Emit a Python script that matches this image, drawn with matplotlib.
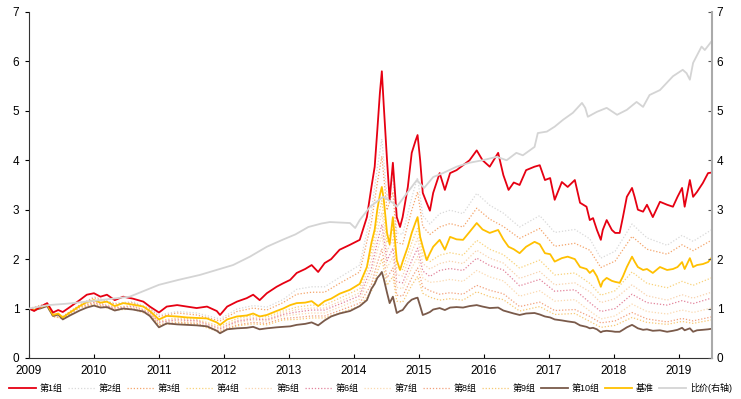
import matplotlib
matplotlib.use("Agg")
import matplotlib.pyplot as plt

plt.rcParams['font.family'] = ['Liberation Sans', 'Noto Sans CJK SC', 'DejaVu Sans']

# dense dates for the solid lines (fractional years)
t_main = [2009.00, 2009.08, 2009.17, 2009.28, 2009.37, 2009.45, 2009.52, 2009.63, 2009.78, 2009.89,
          2010.00, 2010.10, 2010.20, 2010.32, 2010.45, 2010.60, 2010.76, 2010.86, 2011.00, 2011.12,
          2011.28, 2011.43, 2011.58, 2011.74, 2011.89, 2011.94, 2012.05, 2012.20, 2012.35, 2012.45,
          2012.55, 2012.66, 2012.81, 2012.91, 2013.02, 2013.12, 2013.25, 2013.35, 2013.45, 2013.55,
          2013.65, 2013.78, 2013.94, 2014.09, 2014.20, 2014.27, 2014.32, 2014.36, 2014.40, 2014.43,
          2014.46, 2014.51, 2014.55, 2014.60, 2014.66, 2014.71, 2014.75, 2014.83, 2014.89, 2014.95,
          2014.98, 2015.02, 2015.06, 2015.12, 2015.17, 2015.22, 2015.32, 2015.40, 2015.48, 2015.58,
          2015.68, 2015.78, 2015.89, 2015.98, 2016.09, 2016.22, 2016.30, 2016.38, 2016.46, 2016.55,
          2016.65, 2016.78, 2016.86, 2016.94, 2017.02, 2017.09, 2017.20, 2017.29, 2017.40, 2017.48,
          2017.58, 2017.63, 2017.68, 2017.74, 2017.80, 2017.83, 2017.89, 2017.97, 2018.02, 2018.09,
          2018.14, 2018.20, 2018.28, 2018.32, 2018.37, 2018.45, 2018.51, 2018.60, 2018.71, 2018.82,
          2018.91, 2018.98, 2019.05, 2019.09, 2019.17, 2019.22, 2019.28, 2019.37, 2019.45, 2019.50]

g1 = [1.00, 0.95, 1.03, 1.11, 0.92, 0.97, 0.93, 1.03, 1.17, 1.28,
      1.31, 1.24, 1.28, 1.17, 1.24, 1.20, 1.14, 1.04, 0.92, 1.04,
      1.07, 1.04, 1.01, 1.04, 0.95, 0.87, 1.04, 1.14, 1.21, 1.28,
      1.17, 1.31, 1.44, 1.51, 1.58, 1.72, 1.80, 1.88, 1.74, 1.92,
      2.00, 2.19, 2.29, 2.39, 2.85, 3.46, 3.87, 4.60, 5.36, 5.80,
      5.10, 4.00, 3.20, 3.95, 2.85, 2.65, 2.85, 3.46, 4.15, 4.40,
      4.51, 4.00, 3.34, 3.14, 2.98, 3.34, 3.74, 3.40, 3.74, 3.80,
      3.90, 4.00, 4.20, 4.00, 3.87, 4.15, 3.70, 3.40, 3.55, 3.50,
      3.80, 3.87, 3.90, 3.60, 3.64, 3.20, 3.56, 3.46, 3.60, 3.14,
      3.06, 2.79, 2.83, 2.59, 2.39, 2.59, 2.79, 2.59, 2.53, 2.53,
      2.85, 3.26, 3.44, 3.26, 3.00, 2.96, 3.10, 2.85, 3.16, 3.10,
      3.06, 3.26, 3.44, 3.06, 3.60, 3.26, 3.36, 3.54, 3.74, 3.75]

benchmark = [1.00, 0.97, 1.02, 1.08, 0.87, 0.90, 0.82, 0.92, 1.05, 1.13,
             1.17, 1.12, 1.14, 1.05, 1.11, 1.08, 1.04, 0.95, 0.78, 0.85,
             0.84, 0.82, 0.81, 0.80, 0.72, 0.67, 0.78, 0.84, 0.86, 0.90,
             0.84, 0.87, 0.95, 1.00, 1.07, 1.11, 1.12, 1.15, 1.05, 1.15,
             1.20, 1.30, 1.38, 1.50, 1.84, 2.33, 2.60, 3.00, 3.30, 3.46,
             3.20, 2.53, 2.30, 2.85, 1.98, 1.78, 1.95, 2.25, 2.53, 2.75,
             2.85, 2.45, 2.25, 1.98, 2.12, 2.25, 2.39, 2.19, 2.45, 2.40,
             2.39, 2.55, 2.73, 2.60, 2.53, 2.59, 2.40, 2.25, 2.20, 2.12,
             2.25, 2.35, 2.30, 2.12, 2.10, 1.95, 2.02, 2.05, 2.00, 1.84,
             1.80, 1.72, 1.78, 1.65, 1.44, 1.55, 1.62, 1.56, 1.54, 1.52,
             1.65, 1.84, 2.05, 1.95, 1.84, 1.78, 1.80, 1.72, 1.84, 1.78,
             1.80, 1.84, 1.94, 1.80, 2.02, 1.84, 1.88, 1.90, 1.94, 2.02]

g10 = [1.00, 0.97, 1.00, 1.05, 0.85, 0.88, 0.78, 0.86, 0.96, 1.02,
       1.06, 1.02, 1.03, 0.96, 1.00, 0.98, 0.94, 0.85, 0.62, 0.70,
       0.68, 0.67, 0.66, 0.64, 0.55, 0.50, 0.58, 0.60, 0.61, 0.63,
       0.58, 0.60, 0.62, 0.63, 0.64, 0.67, 0.69, 0.72, 0.66, 0.76,
       0.84, 0.90, 0.95, 1.05, 1.17, 1.40, 1.50, 1.62, 1.68, 1.74,
       1.60, 1.32, 1.11, 1.24, 0.91, 0.95, 0.97, 1.11, 1.18, 1.21,
       1.22, 1.05, 0.87, 0.90, 0.93, 0.98, 1.01, 0.97, 1.02, 1.03,
       1.02, 1.05, 1.07, 1.04, 1.01, 1.02, 0.96, 0.93, 0.90, 0.87,
       0.90, 0.91, 0.88, 0.84, 0.82, 0.78, 0.76, 0.74, 0.72, 0.66,
       0.63, 0.60, 0.61, 0.58, 0.52, 0.54, 0.55, 0.54, 0.53, 0.53,
       0.57, 0.62, 0.67, 0.64, 0.60, 0.57, 0.58, 0.55, 0.56, 0.53,
       0.55, 0.57, 0.61, 0.56, 0.60, 0.53, 0.56, 0.57, 0.58, 0.59]

# ratio line (right axis)
t_ratio = [2009.00, 2009.30, 2009.60, 2010.09, 2010.55, 2011.00, 2011.30, 2011.63, 2012.14, 2012.40,
           2012.66, 2012.90, 2013.10, 2013.30, 2013.50, 2013.63, 2013.94, 2014.02, 2014.09, 2014.25,
           2014.45, 2014.60, 2014.66, 2014.82, 2014.97, 2015.08, 2015.22, 2015.37, 2015.58, 2015.78,
           2015.98, 2016.20, 2016.35, 2016.50, 2016.60, 2016.78, 2016.83, 2016.97, 2017.09, 2017.22,
           2017.37, 2017.51, 2017.56, 2017.60, 2017.74, 2017.89, 2018.05, 2018.20, 2018.35, 2018.45,
           2018.55, 2018.71, 2018.91, 2019.06, 2019.12, 2019.17, 2019.22, 2019.35, 2019.40, 2019.50]
ratio = [1.00, 1.07, 1.10, 1.17, 1.24, 1.48, 1.58, 1.68, 1.88, 2.05,
         2.25, 2.39, 2.50, 2.65, 2.72, 2.75, 2.73, 2.63, 2.79, 3.06,
         3.26, 3.14, 3.06, 3.34, 3.60, 3.44, 3.66, 3.74, 3.87, 3.95,
         4.00, 4.07, 4.00, 4.15, 4.10, 4.27, 4.55, 4.58, 4.68, 4.82,
         4.96, 5.16, 5.06, 4.88, 4.98, 5.06, 4.92, 5.02, 5.18, 5.08,
         5.32, 5.42, 5.70, 5.83, 5.76, 5.63, 5.97, 6.30, 6.23, 6.40]

# coarser dates for the dotted groups 2-9
t_grp = [2009.00, 2009.28, 2009.37, 2009.52, 2009.78, 2010.00, 2010.32, 2010.60, 2010.86, 2011.00,
         2011.28, 2011.58, 2011.94, 2012.20, 2012.45, 2012.66, 2012.91, 2013.12, 2013.35, 2013.55,
         2013.78, 2014.09, 2014.27, 2014.36, 2014.43, 2014.51, 2014.60, 2014.66, 2014.75, 2014.89,
         2014.98, 2015.06, 2015.17, 2015.32, 2015.48, 2015.68, 2015.89, 2016.09, 2016.30, 2016.55,
         2016.86, 2017.09, 2017.40, 2017.63, 2017.80, 2018.02, 2018.28, 2018.51, 2018.82, 2019.05,
         2019.22, 2019.50]

g2 = [1.00, 1.10, 0.89, 0.84, 1.07, 1.24, 1.11, 1.14, 1.01, 0.87,
      0.94, 0.91, 0.79, 0.99, 1.06, 1.03, 1.18, 1.39, 1.44, 1.44,
      1.63, 1.88, 2.98, 3.84, 4.43, 3.24, 3.65, 2.53, 2.50, 3.24,
      3.65, 2.88, 2.71, 2.92, 2.99, 2.92, 3.33, 3.09, 2.93, 2.65,
      2.88, 2.54, 2.60, 2.41, 2.02, 2.16, 2.71, 2.43, 2.28, 2.48,
      2.36, 2.59]
g3 = [1.00, 1.10, 0.89, 0.84, 1.07, 1.22, 1.09, 1.12, 0.99, 0.84,
      0.91, 0.87, 0.75, 0.94, 1.01, 0.97, 1.12, 1.29, 1.33, 1.33,
      1.51, 1.74, 2.75, 3.54, 4.08, 2.99, 3.36, 2.34, 2.30, 2.99,
      3.36, 2.66, 2.50, 2.65, 2.72, 2.65, 3.03, 2.81, 2.66, 2.42,
      2.62, 2.26, 2.32, 2.18, 1.83, 1.96, 2.46, 2.20, 2.10, 2.29,
      2.17, 2.38]
g4 = [1.00, 1.07, 0.86, 0.81, 1.04, 1.15, 1.03, 1.06, 0.93, 0.75,
      0.81, 0.78, 0.64, 0.80, 0.86, 0.83, 0.95, 1.03, 1.07, 1.07,
      1.21, 1.40, 2.14, 2.76, 3.18, 2.33, 2.62, 1.82, 1.79, 2.33,
      2.62, 2.07, 1.95, 2.08, 2.13, 2.08, 2.38, 2.20, 2.09, 1.82,
      1.98, 1.68, 1.72, 1.51, 1.27, 1.36, 1.74, 1.51, 1.42, 1.55,
      1.47, 1.62]
g5 = [1.00, 1.07, 0.86, 0.81, 1.04, 1.13, 1.02, 1.05, 0.92, 0.73,
      0.79, 0.76, 0.61, 0.76, 0.82, 0.79, 0.91, 0.98, 1.01, 1.01,
      1.14, 1.32, 1.98, 2.55, 2.94, 2.15, 2.42, 1.68, 1.66, 2.15,
      2.42, 1.91, 1.80, 1.91, 1.96, 1.91, 2.18, 2.02, 1.92, 1.61,
      1.75, 1.48, 1.52, 1.34, 1.12, 1.20, 1.48, 1.26, 1.17, 1.28,
      1.21, 1.33]
g6 = [1.00, 1.06, 0.85, 0.80, 1.03, 1.12, 1.01, 1.04, 0.91, 0.72,
      0.77, 0.75, 0.59, 0.74, 0.79, 0.77, 0.88, 0.93, 0.97, 0.97,
      1.09, 1.26, 1.82, 2.34, 2.70, 1.97, 2.22, 1.54, 1.52, 1.97,
      2.22, 1.76, 1.65, 1.77, 1.81, 1.77, 2.02, 1.87, 1.78, 1.46,
      1.59, 1.35, 1.38, 1.12, 0.94, 1.00, 1.29, 1.12, 1.07, 1.16,
      1.10, 1.21]
g7 = [1.00, 1.06, 0.85, 0.80, 1.03, 1.10, 0.99, 1.02, 0.89, 0.69,
      0.75, 0.72, 0.57, 0.71, 0.77, 0.74, 0.85, 0.88, 0.91, 0.91,
      1.03, 1.19, 1.68, 2.16, 2.49, 1.82, 2.05, 1.43, 1.40, 1.82,
      2.05, 1.62, 1.53, 1.55, 1.59, 1.55, 1.77, 1.64, 1.56, 1.25,
      1.36, 1.15, 1.18, 0.95, 0.79, 0.85, 1.09, 0.94, 0.89, 0.97,
      0.92, 1.01]
g8 = [1.00, 1.05, 0.84, 0.80, 1.02, 1.09, 0.98, 1.00, 0.88, 0.67,
      0.72, 0.70, 0.54, 0.67, 0.72, 0.70, 0.80, 0.82, 0.85, 0.85,
      0.96, 1.11, 1.49, 1.92, 2.21, 1.62, 1.82, 1.27, 1.25, 1.62,
      1.82, 1.44, 1.36, 1.29, 1.32, 1.29, 1.47, 1.37, 1.30, 1.04,
      1.13, 0.96, 0.98, 0.84, 0.71, 0.75, 0.92, 0.79, 0.73, 0.80,
      0.75, 0.83]
g9 = [1.00, 1.05, 0.84, 0.80, 1.02, 1.08, 0.97, 0.99, 0.87, 0.66,
      0.71, 0.68, 0.52, 0.65, 0.69, 0.67, 0.77, 0.78, 0.81, 0.81,
      0.91, 1.05, 1.35, 1.74, 2.01, 1.47, 1.65, 1.15, 1.13, 1.47,
      1.65, 1.31, 1.23, 1.17, 1.20, 1.17, 1.34, 1.24, 1.18, 0.95,
      1.04, 0.88, 0.90, 0.74, 0.62, 0.66, 0.82, 0.72, 0.68, 0.74,
      0.70, 0.77]

years = list(range(2009, 2020))

fig = plt.figure(figsize=(7.41, 3.99), dpi=100)
ax = fig.add_axes([0.0391, 0.1028, 0.9217, 0.8672])

dotted = [
    ("第2组", g2, "#D9D9D9"),
    ("第3组", g3, "#F4A46A"),
    ("第4组", g4, "#F9D27A"),
    ("第5组", g5, "#F8D3AE"),
    ("第6组", g6, "#E2839B"),
    ("第7组", g7, "#FBD9B0"),
    ("第8组", g8, "#F2A07B"),
    ("第9组", g9, "#F7C873"),
]
handles = {}
for name, vals, col in dotted:
    handles[name], = ax.plot(t_grp, vals, linestyle=(0, (1, 1.5)), color=col, lw=0.9, label=name)

handles["第10组"], = ax.plot(t_main, g10, color="#7A5A4A", lw=1.3, label="第10组")
handles["基准"], = ax.plot(t_main, benchmark, color="#FFC000", lw=1.3, label="基准")
handles["第1组"], = ax.plot(t_main, g1, color="#E60012", lw=1.3, label="第1组")

ax2 = ax.twinx()
handles["比价(右轴)"], = ax2.plot(t_ratio, ratio, color="#D4D4D4", lw=1.3, label="比价(右轴)")

for a in (ax, ax2):
    a.set_ylim(0, 7)
    a.set_yticks(range(0, 8))
    a.set_xlim(2009.0, 2019.51)
    a.spines["top"].set_visible(False)

ax.set_xticks(years)
ax.set_xticklabels([str(y) for y in years])
ax.tick_params(axis="x", direction="in", length=3, labelsize=8.5, pad=5)
ax.tick_params(axis="y", direction="out", length=3, labelsize=8.5, pad=4)
ax2.tick_params(axis="y", direction="in", length=3, labelsize=8.5, color="#555555")
ax.spines["right"].set_visible(False)
ax.spines["left"].set_color("#333333")
ax.spines["bottom"].set_color("#333333")
ax2.spines["left"].set_visible(False)
ax2.spines["bottom"].set_visible(False)
ax2.spines["right"].set_color("#AAAAAA")
ax2.spines["right"].set_linewidth(1.5)

order = ["第1组", "第2组", "第3组", "第4组", "第5组", "第6组", "第7组",
         "第8组", "第9组", "第10组", "基准", "比价(右轴)"]
fig.legend([handles[k] for k in order], order, loc="center", bbox_to_anchor=(0.5, 0.028),
           ncol=12, frameon=False, fontsize=6.5, handlelength=3.0, handletextpad=0.4,
           columnspacing=0.6, borderpad=0.2)

fig.savefig("out.png", dpi=100)
